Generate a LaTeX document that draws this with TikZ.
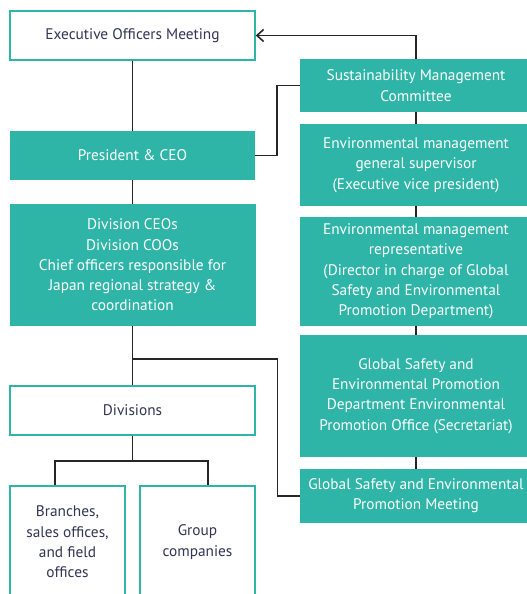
\documentclass[tikz,border=0pt]{standalone}
\usepackage{fontspec}
\setmainfont{PT Sans}
\usepackage{tikz}
\usetikzlibrary{arrows.meta}

\definecolor{envteal}{RGB}{46,181,167}
\definecolor{navy}{RGB}{52,52,88}

\tikzset{
  plainbox/.style={draw=envteal, line width=1.1pt, fill=white, text=navy, align=center, inner sep=0pt, font=\fontsize{11.5}{15.2}\selectfont},
  tealbox/.style={draw=none, fill=envteal, text=white, align=center, inner sep=0pt, font=\fontsize{11.5}{15.2}\selectfont},
  link/.style={draw=black!85, line width=1.2pt}
}

\begin{document}
\begin{tikzpicture}[x=0.75pt,y=0.75pt,yscale=-1,xscale=1]
\useasboundingbox (0,0) rectangle (527,594);
\clip (0,0) rectangle (527,594);

% Left column
\node [plainbox, minimum width=183.75pt, minimum height=36.75pt] (exec) at (132.5,35.5) {Executive Officers Meeting};
\node [tealbox, minimum width=183.75pt, minimum height=36.75pt] (pres) at (132.5,155.5) {President \& CEO};
\node [tealbox, minimum width=184.5pt, minimum height=91.5pt] (divceo) at (132.5,265) {Division CEOs\\Division COOs\\Chief officers responsible for\\Japan regional strategy \&\\coordination};
\node [plainbox, minimum width=183.75pt, minimum height=36.75pt] (divs) at (132.5,410.5) {Divisions};
\node [plainbox, minimum width=86.25pt, minimum height=84pt] (branch) at (67.5,542) {Branches,\\sales offices,\\and field\\offices};
\node [plainbox, minimum width=86.25pt, minimum height=84pt] (group) at (197.5,542) {Group\\companies};

% Right column
\node [tealbox, minimum width=174pt, minimum height=39.75pt] (sus) at (416,85.5) {Sustainability Management\\Committee};
\node [tealbox, minimum width=174pt, minimum height=61.5pt] (sup) at (416,165) {Environmental management\\general supervisor\\(Executive vice president)};
\node [tealbox, minimum width=174pt, minimum height=81.75pt] (rep) at (416,271.5) {Environmental management\\representative\\(Director in charge of Global\\Safety and Environmental\\Promotion Department)};
\node [tealbox, minimum width=174pt, minimum height=91.5pt] (dept) at (416,396) {Global Safety and\\Environmental Promotion\\Department Environmental\\Promotion Office (Secretariat)};
\node [tealbox, minimum width=174pt, minimum height=40.5pt] (meet) at (416,496) {Global Safety and Environmental\\Promotion Meeting};

\coordinate (split) at (132.5,359);

% Connectors
\draw [link] (exec) -- (pres);
\draw [link] (pres) -- (divceo);
\draw [link] (divceo) -- (divs);
\draw [link] (pres.east) -- ++(22,0) |- (sus.west);
\draw [link, -{Straight Barb[length=5pt,width=9pt]}] (sus.north) |- (exec.east);
\draw [link] (sus) -- (sup);
\draw [link] (sup) -- (rep);
\draw [link] (rep) -- (dept);
\draw [link] (dept) -- (meet);
\draw [link] (split) -| ++(145,137) -- (meet.west);
\draw [link] (divs.south) -- ++(0,25) -| ([xshift=-9.4pt]branch.north);
\draw [link] (divs.south) -- ++(0,25) -| ([xshift=7.9pt]group.north);

\end{tikzpicture}
\end{document}
